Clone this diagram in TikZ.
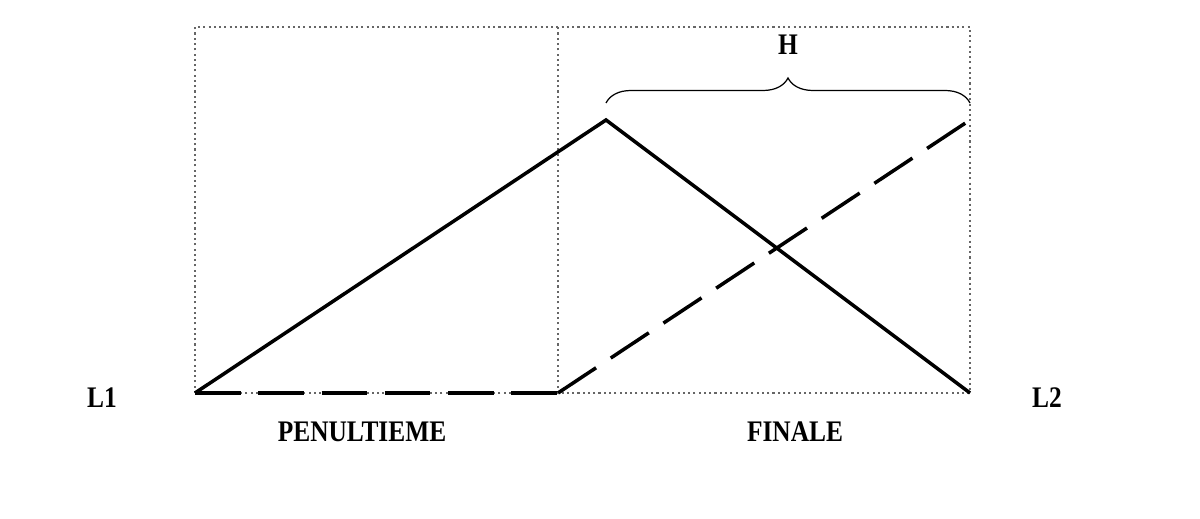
\documentclass[tikz,border=0pt]{standalone}
\usepackage{fontspec}
\setmainfont{Liberation Serif}
\usetikzlibrary{decorations.pathreplacing}
\begin{document}
\begin{tikzpicture}[x=0.02cm,y=-0.02cm,
    lbl/.style={font=\bfseries\fontsize{17}{17}\selectfont,xscale=0.85,inner sep=0pt},
    frame/.style={dash pattern=on 1.2pt off 1.8pt,gray!80!black,line width=0.8pt},
    solidline/.style={line width=2pt},
    dashline/.style={line width=2pt,dash pattern=on 26pt off 10pt}]
  \useasboundingbox (0,0) rectangle (1200,519);
  % box corners
  \coordinate (bl) at (195,393);
  \coordinate (bm) at (558,393);
  \coordinate (br) at (970,393);
  \coordinate (tl) at (195,27);
  \coordinate (tm) at (558,27);
  \coordinate (tr) at (970,27);
  \coordinate (peak) at (606,120);
  \coordinate (rend) at (970,120);
  \draw[frame] (bl) rectangle (tr);
  \draw[frame] (bm) -- (tm);
  \draw[solidline] (bl) -- (peak) -- (br);
  \draw[dashline,line width=2.6pt] (bl) -- (bm);
  \draw[dashline] (bm) -- (rend);
  \draw[decorate,decoration={brace,amplitude=0.5cm},line width=0.7pt]
    (606,103) -- (970,103) node[midway,above=0.95cm,lbl] (h) {H};
  \node[lbl] (l1) at (102,398) {L1};
  \node[lbl] (l2) at (1047,398) {L2};
  \node[lbl] (pen) at (362,432) {PENULTIEME};
  \node[lbl] (fin) at (795,432) {FINALE};
\end{tikzpicture}
\end{document}
